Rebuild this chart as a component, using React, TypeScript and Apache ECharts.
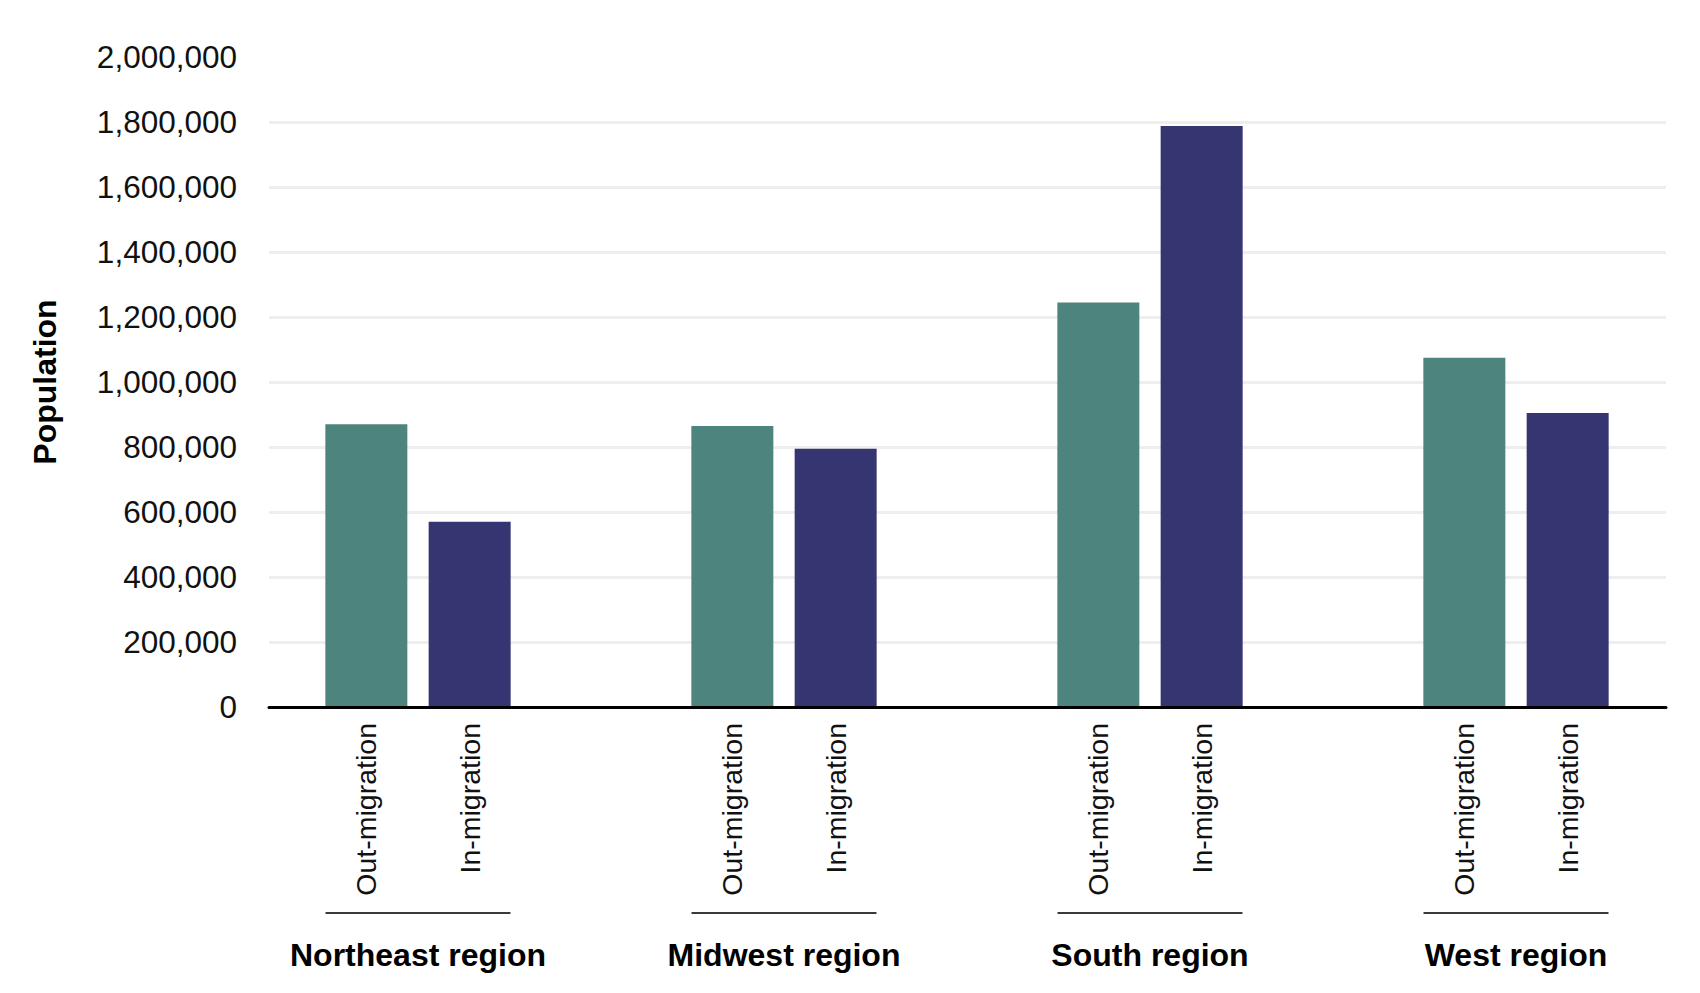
import { useEffect, useRef } from "react";
import * as echarts from "echarts";

const REGIONS = ["Northeast region", "Midwest region", "South region", "West region"];
const SERIES_NAMES = ["Out-migration", "In-migration"];
const OUT_MIGRATION = [870000, 865000, 1245000, 1075000];
const IN_MIGRATION = [570000, 795000, 1788000, 905000];
const Y_MAX = 2000000;
const Y_STEP = 200000;

const FONT = "'Liberation Sans', Arial, Helvetica, sans-serif";
const TEAL = "#4e847e";
const NAVY = "#343571";
const BAR_WIDTH = 82;
const BAR_GAP = 0.26;

export default function App() {
  const chartRef = useRef<HTMLDivElement | null>(null);

  useEffect(() => {
    const el = chartRef.current;
    if (!el) return undefined;

    const chart = echarts.init(el, undefined, { renderer: "svg" });
    // underline under each region spans both bars of the group
    const underlineWidth = Math.round(BAR_WIDTH * (2 + BAR_GAP));

    const sublabel = {
      show: true,
      position: "bottom",
      distance: 16,
      rotate: 90,
      align: "right",
      verticalAlign: "middle",
      formatter: "{a}",
      fontFamily: FONT,
      fontSize: 28.5,
      color: "#111",
    };

    chart.setOption({
      animation: false,
      backgroundColor: "#ffffff",
      textStyle: { fontFamily: FONT },
      grid: [
        { left: 269, right: 34, top: 57, bottom: 286 },
        { left: 235, right: 1, top: 57, bottom: 286 },
      ],
      xAxis: [
        {
          type: "category",
          gridIndex: 0,
          data: REGIONS,
          z: 10,
          axisLine: { show: true, lineStyle: { color: "#000", width: 3 } },
          axisTick: { show: false },
          axisLabel: { show: false },
          splitLine: { show: false },
        },
        {
          type: "category",
          gridIndex: 1,
          data: REGIONS,
          axisLine: { show: false },
          axisTick: { show: false },
          splitLine: { show: false },
          axisLabel: {
            margin: 205,
            interval: 0,
            formatter: (v: string) => `{line| }\n{name|${v}}`,
            rich: {
              line: {
                width: underlineWidth,
                height: 2,
                lineHeight: 2,
                backgroundColor: "#3a3a3a",
              },
              name: {
                fontFamily: FONT,
                fontSize: 32,
                fontWeight: "bold",
                color: "#000",
                lineHeight: 81,
              },
            },
          },
        },
      ],
      yAxis: [
        {
          type: "value",
          gridIndex: 0,
          min: 0,
          max: Y_MAX,
          interval: Y_STEP,
          name: "Population",
          nameLocation: "middle",
          nameRotate: 90,
          nameGap: 208,
          nameTextStyle: {
            fontFamily: FONT,
            fontSize: 32,
            fontWeight: "bold",
            color: "#000",
          },
          axisLine: { show: false },
          axisTick: { show: false },
          axisLabel: {
            margin: 32,
            fontFamily: FONT,
            fontSize: 31.5,
            color: "#111",
            formatter: (v: number) => v.toLocaleString("en-US"),
          },
          splitLine: {
            show: true,
            showMinLine: false,
            showMaxLine: false,
            lineStyle: { color: "#eeeeee", width: 3 },
          },
        },
        {
          type: "value",
          gridIndex: 1,
          min: 0,
          max: Y_MAX,
          interval: Y_STEP,
          show: false,
          splitLine: { show: false },
        },
      ],
      series: [
        {
          name: SERIES_NAMES[0],
          type: "bar",
          xAxisIndex: 1,
          yAxisIndex: 1,
          data: OUT_MIGRATION,
          barWidth: BAR_WIDTH,
          barGap: `${BAR_GAP * 100}%`,
          itemStyle: { color: TEAL },
          label: sublabel,
        },
        {
          name: SERIES_NAMES[1],
          type: "bar",
          xAxisIndex: 1,
          yAxisIndex: 1,
          data: IN_MIGRATION,
          barWidth: BAR_WIDTH,
          barGap: `${BAR_GAP * 100}%`,
          itemStyle: { color: NAVY },
          label: sublabel,
        },
      ],
    });

    return () => {
      chart.dispose();
    };
  }, []);

  return (
    <div
      ref={chartRef}
      style={{ position: "absolute", left: 0, top: 0, width: 1700, height: 993, background: "#fff" }}
    />
  );
}
